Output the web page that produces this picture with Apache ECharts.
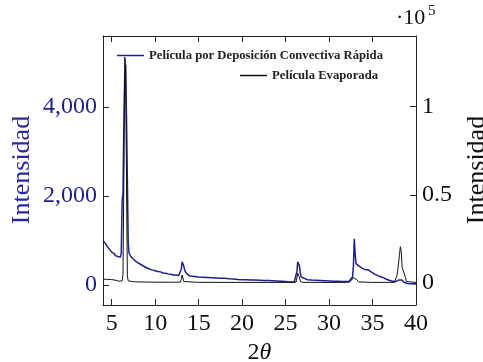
<!DOCTYPE html>
<html>
<head>
<meta charset="utf-8">
<script src="https://cdn.jsdelivr.net/npm/echarts@6/dist/echarts.min.js"></script>
<style>
  html, body { margin: 0; padding: 0; background: #fff; }
  #chart { width: 483px; height: 362px; }
</style>
</head>
<body>
<div id="chart"></div>
<script>
// 2theta positions and intensities
const rapidaX = [4.0, 4.1, 4.2, 4.3, 4.4, 4.5, 4.6, 4.7, 4.8, 4.9, 5.0, 5.1, 5.2, 5.3, 5.4, 5.5, 5.6, 5.7, 5.8, 5.9,
  6.0, 6.1, 6.2, 6.3, 6.4, 6.5, 6.6, 6.7, 6.8, 6.9, 7.0, 7.2, 7.4, 7.6, 7.8, 8.0, 8.2, 8.4, 8.6, 8.8,
  9.0, 9.2, 9.4, 9.6, 9.8, 10.0, 10.3, 10.6, 10.9, 11.2, 11.5, 11.8, 12.1, 12.4, 12.7, 12.9, 13.0, 13.1, 13.2, 13.3,
  13.4, 13.6, 13.8, 14.0, 14.5, 15.0, 15.5, 16.0, 16.5, 17.0, 17.5, 18.0, 18.5, 19.0, 19.5, 20.0, 20.5, 21.0, 21.5, 22.0,
  22.5, 23.0, 23.5, 24.0, 24.5, 25.0, 25.5, 26.0, 26.2, 26.3, 26.4, 26.5, 26.6, 26.7, 26.8, 27.0, 27.5, 28.0, 28.5, 29.0,
  29.5, 30.0, 30.5, 31.0, 31.5, 32.0, 32.3, 32.5, 32.7, 32.8, 32.9, 33.0, 33.1, 33.2, 33.4, 33.6, 33.8, 34.0, 34.2, 34.4,
  34.5, 34.6, 34.8, 35.0, 35.3, 35.6, 36.0, 36.3, 36.6, 37.0, 37.3, 37.6, 37.8, 38.0, 38.2, 38.4, 38.6, 38.8, 39.0, 39.5, 40.0];
const rapidaY = [1000, 960, 970, 930, 910, 860, 870, 820, 790, 770, 740, 735, 700, 705, 660, 670, 650, 640, 625, 610,
  630, 700, 1900, 2050, 3600, 4700, 4950, 3800, 2400, 950, 720, 640, 600, 560, 550, 500, 480, 455, 440, 410,
  400, 370, 360, 340, 345, 320, 305, 295, 270, 265, 250, 240, 225, 225, 215, 230, 350, 520, 560, 420,
  330, 260, 230, 200, 190, 180, 175, 170, 165, 160, 150, 150, 140, 135, 125, 120, 120, 115, 110, 105,
  100, 100, 95, 90, 85, 80, 70, 70, 110, 300, 520, 560, 420, 260, 180, 150, 120, 110, 105, 100,
  95, 90, 85, 85, 80, 80, 85, 100, 180, 420, 1040, 700, 480, 440, 430, 390, 380, 360, 340, 320,
  340, 330, 300, 270, 240, 210, 180, 160, 130, 100, 85, 70, 80, 110, 130, 110, 60, 40, 35, 30, 25];

const evaporadaX = [4.0, 4.5, 5.0, 5.5, 5.8, 6.0, 6.2, 6.3, 6.4, 6.5, 6.6, 6.7, 6.8, 6.9, 7.0, 7.5, 8.0, 8.1, 8.2, 9.0,
  10.0, 12.0, 12.9, 13.0, 13.1, 13.2, 13.3, 13.5, 15.0, 20.0, 25.0, 26.2, 26.3, 26.4, 26.5, 26.6, 26.7, 27.0, 30.0, 32.0,
  32.4, 32.6, 32.8, 33.0, 33.2, 33.4, 33.6, 35.0, 37.5, 37.7, 37.8, 37.9, 38.0, 38.1, 38.2, 38.3, 38.4, 38.5, 38.7, 38.8,
  38.9, 39.0, 40.0];
const evaporadaY = [2200, 2000, 1900, 1500, 1000, 900, 1200, 5000, 60000, 128000, 125000, 60000, 4000, 1200, 800, 700, 600, 1500, 600, 500,
  450, 400, 500, 2000, 4500, 3500, 800, 400, 350, 300, 300, 400, 1500, 5500, 6200, 3000, 700, 350, 300, 350,
  600, 1500, 3000, 3400, 1800, 600, 350, 300, 350, 1000, 4000, 7000, 8000, 16000, 20500, 18000, 9000, 7500, 7000, 3000,
  800, 400, 300];

const xTicks = [5, 10, 15, 20, 25, 30, 35, 40];
const leftTicks = [0, 2000, 4000];
const rightTicks = [0, 50000, 100000];

const seriesNames = ['Película por Deposición Convectiva Rápida', 'Película Evaporada'];

const NAVY = '#1e1e8c';
const SERIF = '"Liberation Serif", "DejaVu Serif", serif';

const chart = echarts.init(document.getElementById('chart'));

const zip = (xs, ys) => xs.map((x, i) => [x, ys[i]]);

chart.setOption({
  animation: false,
  backgroundColor: '#fff',
  grid: { left: 103, right: 67, top: 36, bottom: 57, outerBoundsMode: 'none', containLabel: false },
  legend: [
    {
      data: [seriesNames[0]],
      left: 117, top: 49, padding: 0,
      icon: 'rect', itemWidth: 27, itemHeight: 1.5,
      itemStyle: { color: NAVY },
      textStyle: { fontFamily: SERIF, fontWeight: 'bold', fontSize: 12.7, color: '#222' }
    },
    {
      data: [seriesNames[1]],
      left: 240, top: 69, padding: 0,
      icon: 'rect', itemWidth: 27, itemHeight: 1.5,
      itemStyle: { color: '#111' },
      textStyle: { fontFamily: SERIF, fontWeight: 'bold', fontSize: 12.7, color: '#222' }
    }
  ],
  xAxis: [
    {
      type: 'value', min: 4, max: 40, position: 'bottom',
      axisLine: { onZero: false, lineStyle: { color: '#222', width: 1 } },
      axisTick: { inside: true, length: 6, customValues: xTicks, lineStyle: { color: '#222' } },
      axisLabel: { customValues: xTicks, margin: 7, fontFamily: SERIF, fontSize: 24, color: '#111' },
      splitLine: { show: false },
      name: '{n|2}{i|θ}', nameLocation: 'middle', nameGap: 36,
      nameTextStyle: {
        rich: {
          n: { fontFamily: SERIF, fontSize: 24, color: '#111' },
          i: { fontFamily: SERIF, fontSize: 24, fontStyle: 'italic', color: '#111' }
        }
      }
    },
    {
      type: 'value', min: 4, max: 40, position: 'top',
      axisLine: { onZero: false, lineStyle: { color: '#222', width: 1 } },
      axisTick: { inside: true, length: 6, customValues: xTicks, lineStyle: { color: '#222' } },
      axisLabel: { show: false },
      splitLine: { show: false }
    }
  ],
  yAxis: [
    {
      type: 'value', min: -450, max: 5600, position: 'left',
      axisLine: { show: true, onZero: false, lineStyle: { color: '#222', width: 1 } },
      axisTick: { show: true, inside: true, length: 6, customValues: leftTicks, lineStyle: { color: '#222' } },
      axisLabel: {
        customValues: leftTicks, margin: 6, fontFamily: SERIF, fontSize: 24, color: NAVY,
        formatter: v => v.toLocaleString('en-US')
      },
      splitLine: { show: false }
    },
    {
      type: 'value', min: -12500, max: 140000, position: 'right',
      axisLine: { show: true, onZero: false, lineStyle: { color: '#222', width: 1 } },
      axisTick: { show: true, inside: true, length: 6, customValues: rightTicks, lineStyle: { color: '#222' } },
      axisLabel: {
        customValues: rightTicks, margin: 6, fontFamily: SERIF, fontSize: 24, color: '#111',
        formatter: v => String(v / 1e5)
      },
      splitLine: { show: false }
    }
  ],
  graphic: [
    {
      type: 'text', x: 22, y: 170, rotation: Math.PI / 2,
      style: { text: 'Intensidad', font: '26px ' + SERIF, fill: '#2a2aa0', align: 'center', verticalAlign: 'middle' }
    },
    {
      type: 'text', x: 477, y: 170, rotation: Math.PI / 2,
      style: { text: 'Intensidad', font: '26px ' + SERIF, fill: '#111', align: 'center', verticalAlign: 'middle' }
    },
    {
      type: 'text', x: 396, y: 18,
      style: { text: '·10', font: '22px ' + SERIF, fill: '#111', align: 'left', verticalAlign: 'middle' }
    },
    {
      type: 'text', x: 428, y: 11,
      style: { text: '5', font: '15px ' + SERIF, fill: '#111', align: 'left', verticalAlign: 'middle' }
    }
  ],
  series: [
    {
      name: seriesNames[0], type: 'line', xAxisIndex: 0, yAxisIndex: 0,
      data: zip(rapidaX, rapidaY), showSymbol: false,
      lineStyle: { color: NAVY, width: 1.5 }, itemStyle: { color: NAVY }
    },
    {
      name: seriesNames[1], type: 'line', xAxisIndex: 0, yAxisIndex: 1,
      data: zip(evaporadaX, evaporadaY), showSymbol: false,
      lineStyle: { color: '#111', width: 1 }, itemStyle: { color: '#111' }
    }
  ]
});
</script>
</body>
</html>
